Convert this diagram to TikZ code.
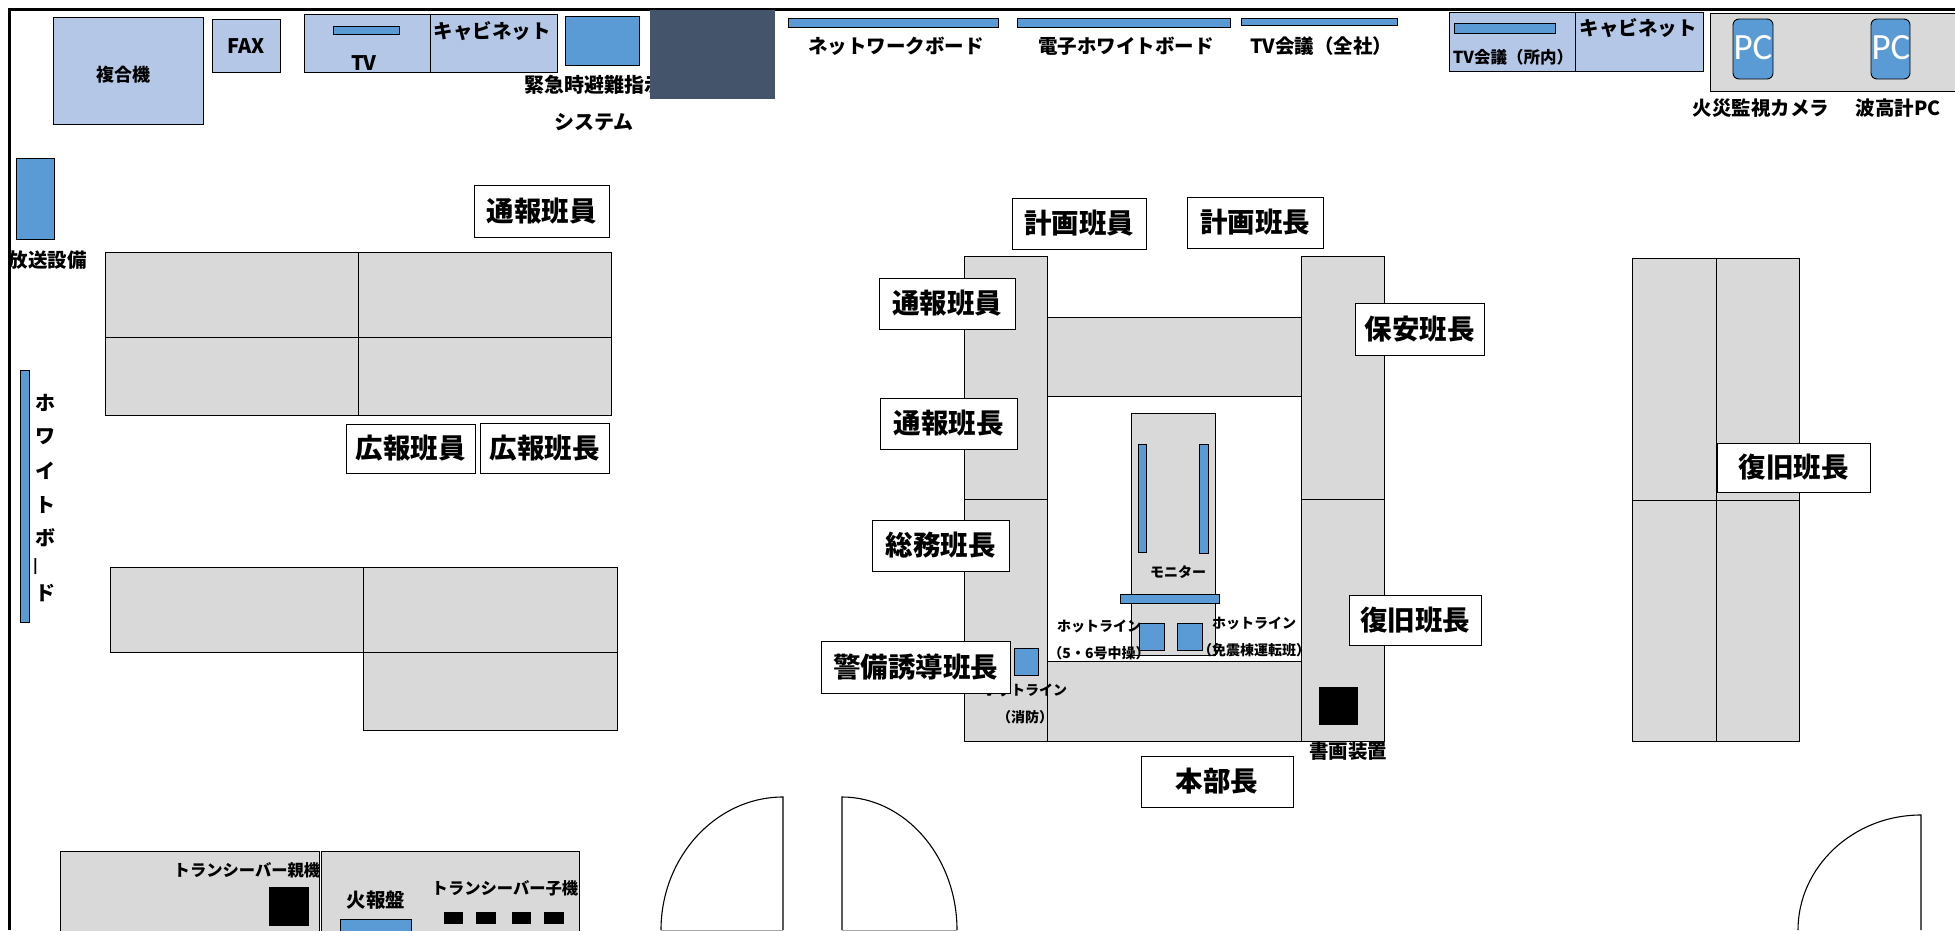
\documentclass[tikz,border=0pt]{standalone}
\usepackage{fontspec}
\setmainfont{Noto Sans CJK JP}
\newfontfamily\pcfont{Carlito}
\definecolor{paleblue}{HTML}{B4C7E7}
\definecolor{midblue}{HTML}{5B9BD5}
\definecolor{deskgrey}{HTML}{D9D9D9}
\definecolor{slate}{HTML}{44546A}
\tikzset{
  paleunit/.style={draw=black,fill=paleblue,line width=0.9pt},
  blueunit/.style={draw=black,fill=midblue,line width=0.9pt},
  deskunit/.style={draw=black,fill=deskgrey,line width=0.9pt},
  blackunit/.style={fill=black},
  rolebox/.style={draw=black,fill=white,line width=0.9pt},
  doorline/.style={draw=black,line width=1.1pt},
  lbl/.style={inner sep=0pt,outer sep=0pt,align=center,font=\bfseries},
}
\newcommand\bx[5]{\path[#1] (#2,#3) rectangle (#4,#5);}
\newcommand\lb[5]{\node[lbl] (#1) at (#2,#3) {\fontsize{#4}{#4}\selectfont #5};}
\newcommand\role[6]{\path[rolebox] (#2,#3) rectangle (#4,#5);
  \node[lbl] (#1) at ({(#2+#4)/2},{(#3+#5)/2}) {\fontsize{27.5}{28}\selectfont #6};}
\begin{document}
\begin{tikzpicture}[x=1pt,y=-1pt]
\useasboundingbox (0,0) rectangle (1955,930);
% room frame
\draw[black,line width=3pt] (9,930) -- (9,9) -- (1955,9);
% top row, left
\bx{paleunit}{53}{17}{203}{124}
\lb{fukugo}{123}{75}{18}{複合機}
\bx{paleunit}{212}{19}{280}{72}
\lb{fax}{246}{46}{20}{FAX}
\bx{paleunit}{304}{14}{430}{72}
\bx{paleunit}{430}{14}{557}{72}
\bx{blueunit}{333}{26}{399}{34}
\lb{tv}{364}{63}{20}{TV}
\lb{cab1}{492}{31}{19.5}{キャビネット}
\bx{blueunit}{565}{16}{639}{65}
\lb{kinkyu}{594}{85}{20}{緊急時避難指示}
\lb{system}{594}{122}{20}{システム}
\bx{fill=slate}{650}{10}{775}{99}
% boards
\bx{blueunit}{788}{18}{998}{27}
\lb{netb}{896}{46}{19.5}{ネットワークボード}
\bx{blueunit}{1017}{18}{1230}{27}
\lb{denshi}{1126}{46}{19.5}{電子ホワイトボード}
\bx{blueunit}{1241}{18}{1397}{25}
\lb{tvall}{1321}{46}{19.5}{TV会議（全社）}
\bx{paleunit}{1449}{12}{1575}{71}
\bx{paleunit}{1575}{12}{1703}{71}
\bx{blueunit}{1454}{23}{1555}{33}
\lb{tvin}{1513}{57}{16.5}{TV会議（所内）}
\lb{cab2}{1638}{28}{19.5}{キャビネット}
% PC shelf
\path[draw=black,fill=deskgrey,line width=0.9pt] (1955,13) -- (1710,13) -- (1710,91) -- (1955,91);
\path[blueunit,rounded corners=6pt] (1733,19) rectangle (1773,79);
\path[blueunit,rounded corners=6pt] (1871,19) rectangle (1910,79);
\node[inner sep=0pt,text=white] (pc1) at (1753,48) {\pcfont\fontsize{37}{37}\selectfont PC};
\node[inner sep=0pt,text=white] (pc2) at (1891,48) {\pcfont\fontsize{37}{37}\selectfont PC};
\lb{kasai}{1761}{108}{19.5}{火災監視カメラ}
\lb{hakou}{1898}{108}{19.5}{波高計PC}
% left wall
\bx{blueunit}{16}{158}{54}{239}
\lb{hoso}{48}{260}{19.5}{放送設備}
\bx{blueunit}{20}{370}{29}{622}
\lb{w1}{45}{403}{20}{ホ}
\lb{w2}{45}{437}{20}{ワ}
\lb{w3}{45}{471}{20}{イ}
\lb{w4}{45}{505}{20}{ト}
\lb{w5}{45}{538}{20}{ボ}
\node[inner sep=0pt,outer sep=0pt,rotate=90] (w6) at (39,566) {\fontsize{20}{20}\selectfont ー};
\lb{w7}{45}{593}{20}{ド}
% left desks
\bx{deskunit}{105}{252}{358}{337}
\bx{deskunit}{358}{252}{611}{337}
\bx{deskunit}{105}{337}{358}{415}
\bx{deskunit}{358}{337}{611}{415}
\bx{deskunit}{110}{567}{363}{652}
\bx{deskunit}{363}{567}{617}{652}
\bx{deskunit}{363}{652}{617}{730}
\role{tsuho1}{474}{185}{609}{237}{通報班員}
\role{koho1}{346}{424}{475}{473}{広報班員}
\role{koho2}{480}{423}{609}{473}{広報班長}
% centre desks
\bx{deskunit}{964}{256}{1047}{499}
\bx{deskunit}{964}{499}{1047}{741}
\bx{deskunit}{1301}{256}{1384}{499}
\bx{deskunit}{1301}{499}{1384}{741}
\bx{deskunit}{1047}{317}{1301}{396}
\bx{deskunit}{1047}{661}{1301}{741}
\bx{deskunit}{1131}{413}{1215}{655}
\bx{blueunit}{1138}{444}{1146}{552}
\bx{blueunit}{1199}{444}{1208}{553}
\lb{monitor}{1178}{572}{14}{モニター}
\bx{blueunit}{1120}{594}{1219}{603}
\bx{blueunit}{1139}{623}{1164}{650}
\bx{blueunit}{1177}{623}{1202}{650}
\bx{blueunit}{1014}{648}{1038}{675}
\bx{blackunit}{1319}{687}{1358}{725}
\lb{hot1}{1099}{626}{14}{ホットライン}
\lb{hot1b}{1099}{653}{14}{（5・6号中操）}
\lb{hot2}{1254}{623}{14}{ホットライン}
\lb{hot2b}{1254}{650}{14}{（免震棟運転班）}
\lb{hot3}{1025}{690}{14}{ホットライン}
\lb{hot3b}{1025}{717}{14}{（消防）}
\lb{shoga}{1348}{751}{19.5}{書画装置}
\role{keikaku1}{1012}{198}{1146}{249}{計画班員}
\role{keikaku2}{1187}{197}{1323}{248}{計画班長}
\role{tsuho2}{879}{278}{1015}{329}{通報班員}
\role{tsuho3}{880}{398}{1017}{449}{通報班長}
\role{hoan}{1355}{303}{1484}{355}{保安班長}
\role{somu}{872}{520}{1009}{571}{総務班長}
\role{keibi}{821}{641}{1010}{693}{警備誘導班長}
\role{fukkyu1}{1349}{595}{1481}{645}{復旧班長}
\role{honbu}{1141}{756}{1293}{807}{本部長}
% right desks
\bx{deskunit}{1632}{258}{1716}{500}
\bx{deskunit}{1716}{258}{1799}{500}
\bx{deskunit}{1632}{500}{1716}{741}
\bx{deskunit}{1716}{500}{1799}{741}
\role{fukkyu2}{1717}{443}{1870}{492}{復旧班長}
% bottom left desks
\bx{deskunit}{60}{851}{319}{935}
\bx{deskunit}{321}{851}{579}{935}
\lb{oya}{247}{870}{16.3}{トランシーバー親機}
\bx{blackunit}{269}{887}{309}{926}
\lb{kahoban}{376}{900}{19.5}{火報盤}
\bx{blueunit}{340}{919}{411}{935}
\lb{ko}{505}{888}{16.3}{トランシーバー子機}
\bx{blackunit}{444}{912}{463}{924}
\bx{blackunit}{476}{912}{496}{924}
\bx{blackunit}{512}{912}{531}{924}
\bx{blackunit}{544}{912}{564}{924}
% doors
\coordinate (d1t) at (783,797);
\coordinate (d1b) at (783,930);
\coordinate (d1e) at (661,930);
\draw[doorline] (d1e) .. controls (661,857) and (716,797) .. (d1t) -- (d1b);
\draw[gray!70,line width=0.9pt] (d1e) -- (d1b);
\coordinate (d2t) at (842,797);
\coordinate (d2b) at (842,930);
\coordinate (d2e) at (957,930);
\draw[doorline] (d2e) .. controls (957,857) and (905,797) .. (d2t) -- (d2b);
\draw[gray!70,line width=0.9pt] (d2e) -- (d2b);
\coordinate (d3t) at (1921,815);
\coordinate (d3b) at (1921,930);
\coordinate (d3e) at (1798,930);
\draw[doorline] (d3e) .. controls (1798,867) and (1853,815) .. (d3t) -- (d3b);
\end{tikzpicture}
\end{document}
